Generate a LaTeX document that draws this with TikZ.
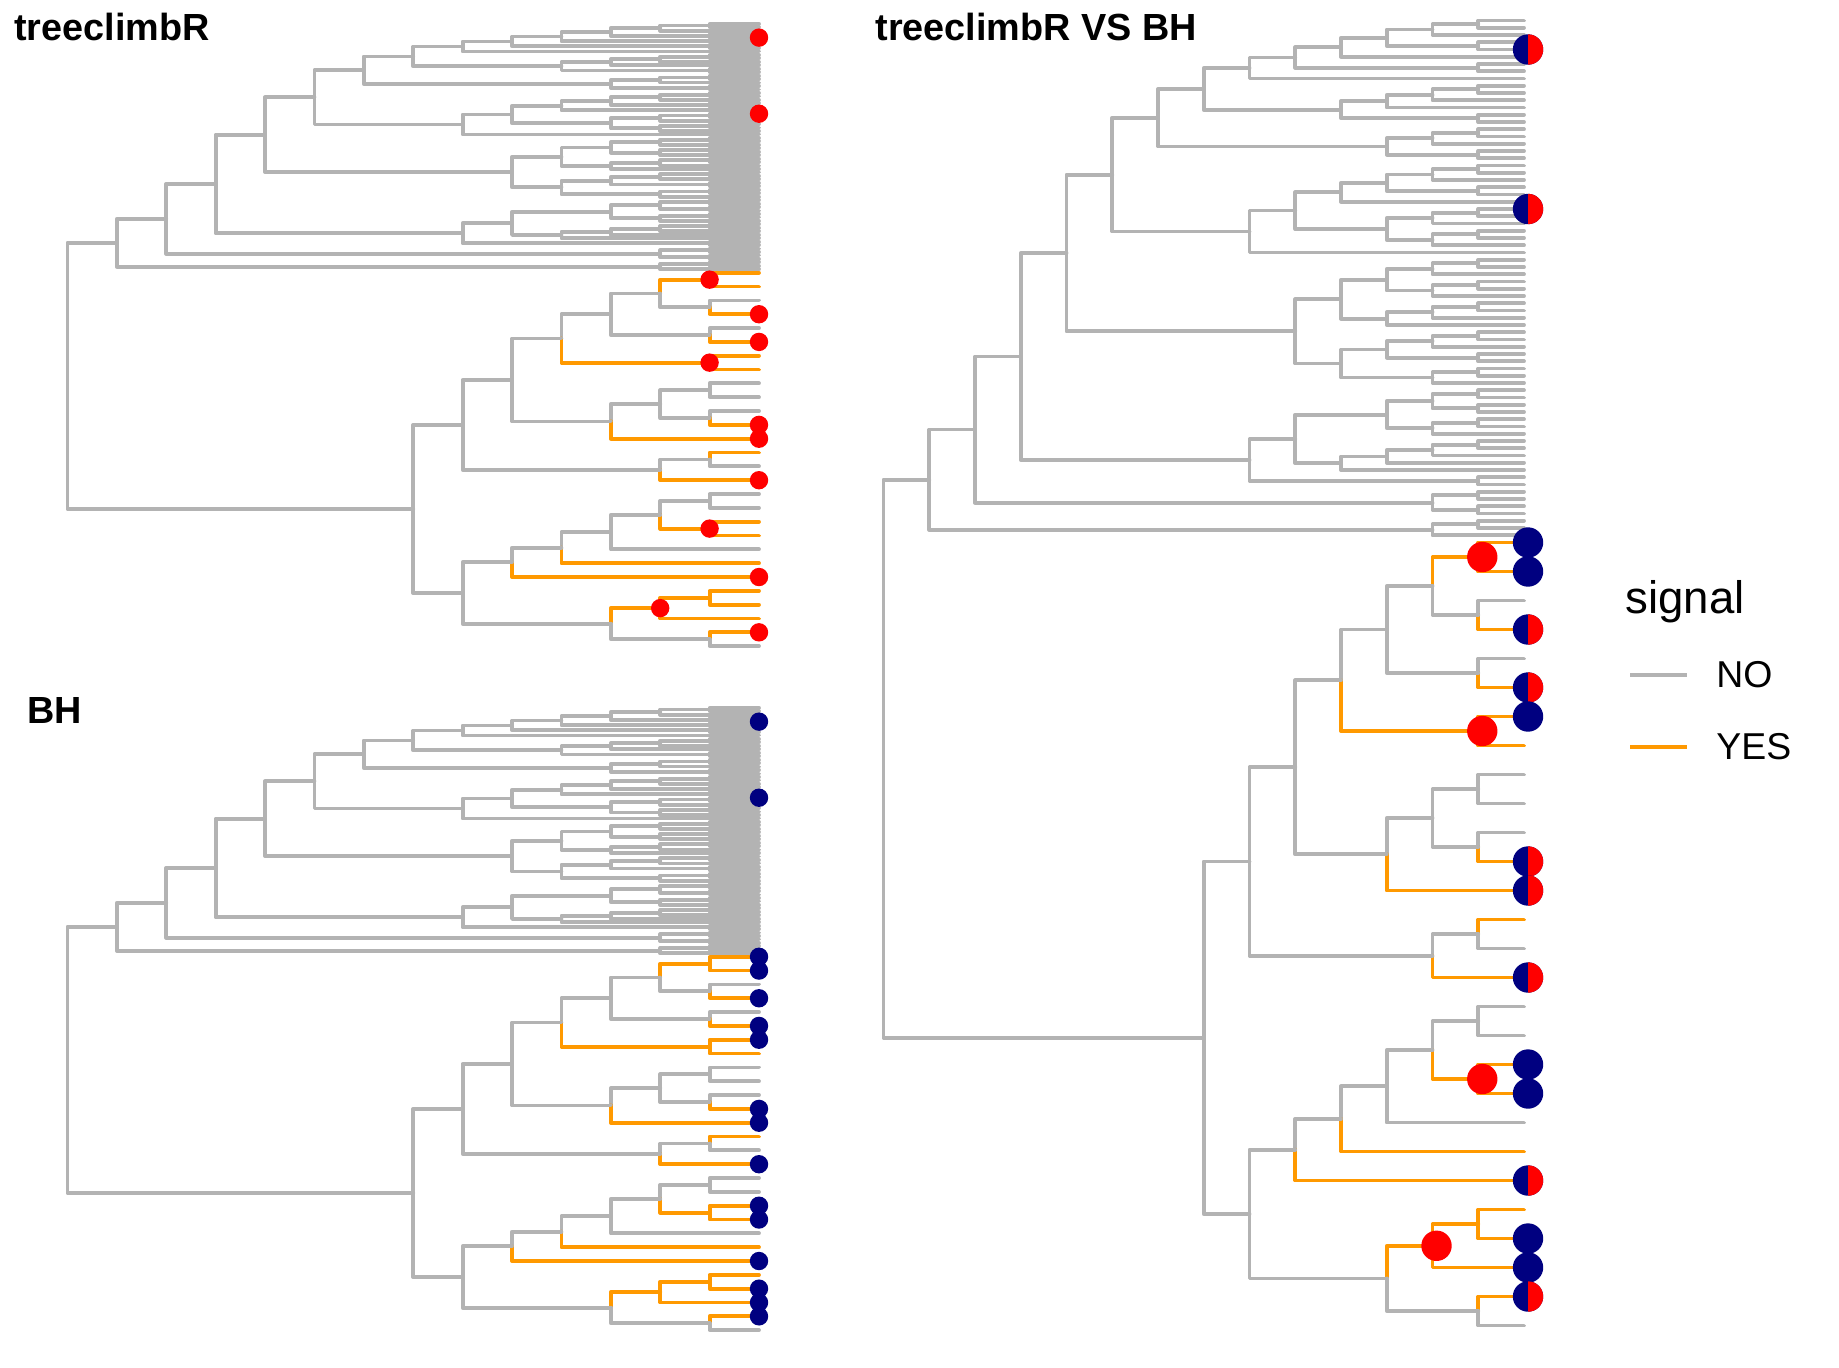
\documentclass[tikz,border=0pt]{standalone}
\usepackage{fontspec}
\setmainfont{Liberation Sans}
\definecolor{treegray}{HTML}{B3B3B3}
\definecolor{treeorange}{HTML}{FF9900}
\definecolor{navyc}{HTML}{000080}
\definecolor{redc}{HTML}{FF0000}
\tikzset{
  eg/.style={draw=treegray,line width=1.9pt,line cap=round,line join=round},
  eo/.style={draw=treeorange,line width=1.9pt,line cap=round,line join=round},
  legline/.style={line width=2.2pt,line cap=butt},
  ttl/.style={anchor=base west,inner sep=0pt,font=\fontsize{18.9}{22}\selectfont\bfseries},
  legtxt/.style={anchor=west,inner sep=0pt,font=\fontsize{18.7}{22}\selectfont},
}
\newcount\tipi
% dots
\def\dotred#1#2{\fill[redc] (#1+\DX,#2) circle (\RR);}
\def\dotnavy#1#2{\fill[navyc] (#1+\DX,#2) circle (\RR);}
\def\dothalf#1#2{\fill[navyc] (#1+\DX,#2) circle (\RR);
  \begin{scope}\clip (#1+\DX,#2-\RR-2) rectangle (#1+\DX+\RR+2,#2+\RR+2);
  \fill[redc] (#1+\DX,#2) circle (\RR);\end{scope}}
\expandafter\let\csname dmAt\endcsname\dotred
\expandafter\let\csname dmAx\endcsname\dotred
\expandafter\let\csname dmBb\endcsname\dotnavy
\expandafter\let\csname dmBx\endcsname\dotnavy
\expandafter\let\csname dmCt\endcsname\dotred
\expandafter\let\csname dmCb\endcsname\dotnavy
\expandafter\let\csname dmCx\endcsname\dothalf
\def\mydot#1#2#3{%
  \ifcsname dm\treeid#1\endcsname
    \xdef\dotlist{\unexpanded\expandafter{\dotlist}%
      \expandafter\noexpand\csname dm\treeid#1\endcsname{#2}{#3}}%
  \fi}
% leaf: edge colour, dot code
\def\Lf#1#2{%
  \pgfmathsetmacro\yy{\the\tipi<72 ? \YO+0.25*\DD*\the\tipi : \YO+18*\DD+\DD*(\the\tipi-72)}%
  \global\advance\tipi by 1\relax
  \xdef\ry{\yy}\gdef\rh{0}\gdef\rc{#1}%
  \edef\xx{\TX}%
  \mydot{#2}{\xx}{\yy}%
}
% internal node: edge colour, dot code, child 1, child 2
\def\Nd#1#2#3#4{%
  \begingroup
  #3%
  \let\ya\ry \let\ha\rh \let\ca\rc
  #4%
  \let\yb\ry \let\hb\rh \let\cb\rc
  \pgfmathsetmacro\yy{(\ya+\yb)/2}%
  \pgfmathtruncatemacro\hh{max(\ha,\hb)+1}%
  \pgfmathsetmacro\xx{\TX-\hh*\ST}%
  \pgfmathsetmacro\xa{\TX-\ha*\ST}%
  \pgfmathsetmacro\xb{\TX-\hb*\ST}%
  \edef\ndtmp{\noexpand\draw[e\ca] (\xx,\yy) -- (\xx,\ya) -- (\xa,\ya);
    \noexpand\draw[e\cb] (\xx,\yy) -- (\xx,\yb) -- (\xb,\yb);}%
  \ndtmp
  \mydot{#2}{\xx}{\yy}%
  \xdef\ry{\yy}\xdef\rh{\hh}\gdef\rc{#1}%
  \endgroup
}
\def\Gq{\Lf gn}
\def\Cq{\Nd gn{\Lf gn}{\Lf gn}}
% upper clade (72 tips, scaled)
\def\uA{\Nd gn{\Nd gn{\Cq}{\Gq}}{\Nd gn{\Gq}{\Lf gx}}}
\def\uB{\Nd gn{\Nd gn{\Nd gn{\uA}{\Gq}}{\Cq}}{\Gq}}
\def\uC{\Nd gn{\Nd gn{\Nd gn{\Cq}{\Gq}}{\Gq}}{\Cq}}
\def\uD{\Nd gn{\Nd gn{\uB}{\uC}}{\Nd gn{\Nd gn{\Cq}{\Gq}}{\Cq}}}
\def\uE{\Nd gn{\Nd gn{\Nd gn{\Nd gn{\Nd gn{\Cq}{\Gq}}{\Cq}}{\Gq}}{\Nd gn{\Nd gn{\Nd gn{\Lf gx}{\Gq}}{\Gq}}{\Nd gn{\Cq}{\Gq}}}}{\Gq}}
\def\uF{\Nd gn{\Nd gn{\Nd gn{\Nd gn{\Cq}{\Gq}}{\Nd gn{\Cq}{\Gq}}}{\Nd gn{\Nd gn{\Cq}{\Gq}}{\Gq}}}{\Nd gn{\Nd gn{\Nd gn{\Cq}{\Gq}}{\Cq}}{\Nd gn{\Cq}{\Gq}}}}
\def\uG{\Nd gn{\Nd gn{\Nd gn{\Nd gn{\Cq}{\Cq}}{\Nd gn{\Cq}{\Gq}}}{\Nd gn{\Nd gn{\Nd gn{\Cq}{\Gq}}{\Gq}}{\Gq}}}{\Cq}}
\def\uH{\Nd gn{\Nd gn{\Nd gn{\Nd gn{\uD}{\uE}}{\uF}}{\uG}}{\Nd gn{\Cq}{\Cq}}}
\def\uI{\Nd gn{\uH}{\Nd gn{\Cq}{\Gq}}}
% lower clade (28 tips)
\def\lA{\Nd gn{\Nd ot{\Lf ob}{\Lf ob}}{\Nd gn{\Gq}{\Lf ox}}}
\def\lB{\Nd gn{\lA}{\Nd gn{\Gq}{\Lf ox}}}
\def\lC{\Nd gn{\lB}{\Nd ot{\Lf ob}{\Lf on}}}
\def\lD{\Nd gn{\Nd gn{\Cq}{\Nd gn{\Gq}{\Lf ox}}}{\Lf ox}}
\def\lE{\Nd gn{\lC}{\lD}}
\def\lF{\Nd gn{\Nd gn{\Lf on}{\Gq}}{\Lf ox}}
\def\lG{\Nd gn{\lE}{\lF}}
\def\lH{\Nd gn{\Nd gn{\Nd gn{\Nd gn{\Cq}{\Nd ot{\Lf ob}{\Lf ob}}}{\Gq}}{\Lf on}}{\Lf ox}}
\def\lI{\Nd gn{\Nd ot{\Nd on{\Lf on}{\Lf ob}}{\Lf ob}}{\Nd gn{\Lf ox}{\Gq}}}
\def\lK{\Nd gn{\lG}{\Nd gn{\lH}{\lI}}}
\def\TREE{\Nd gn{\uI}{\lK}}
\def\drawtree#1#2#3#4#5#6#7{%
  \def\treeid{#1}\def\TX{#2}\def\ST{#3}\def\YO{#4}\def\DD{#5}\def\RR{#6}\def\DX{#7}%
  \global\tipi=0\relax \gdef\dotlist{}%
  \TREE
  \dotlist
}
\begin{document}
\begin{tikzpicture}[x=0.5pt,y=-0.5pt]
\fill[white] (0,0) rectangle (1839,1367);
\useasboundingbox (0,0) rectangle (1839,1367);
\drawtree{A}{759}{49.4}{23.8}{13.83}{9.2}{0}
\drawtree{B}{759}{49.4}{707.8}{13.83}{9.2}{0}
\drawtree{C}{1524}{45.75}{20.5}{29}{15.2}{4}
\node[ttl] (ta) at (14,40) {treeclimbR};
\node[ttl] (tb) at (27,723) {BH};
\node[ttl] (tc) at (875,40) {treeclimbR VS BH};
\node[anchor=base west,inner sep=0pt,font=\fontsize{22.8}{26}\selectfont] (lg) at (1625,613) {signal};
\coordinate (k1a) at (1630,675); \coordinate (k1b) at (1687,675);
\coordinate (k2a) at (1630,747); \coordinate (k2b) at (1687,747);
\draw[legline,treegray] (k1a) -- (k1b);
\draw[legline,treeorange] (k2a) -- (k2b);
\node[legtxt] (lno) at (1716,675) {NO};
\node[legtxt] (lyes) at (1716,747) {YES};
\end{tikzpicture}
\end{document}
